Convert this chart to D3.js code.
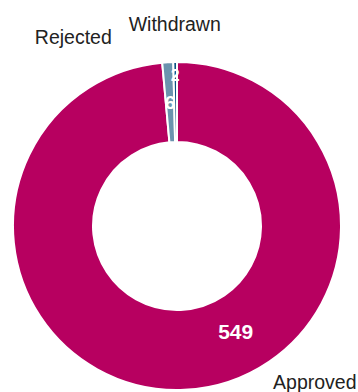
<!DOCTYPE html>
<html>
<head>
<meta charset="utf-8">
<script src="https://cdn.jsdelivr.net/npm/d3@7"></script>
<style>
  html, body { margin: 0; padding: 0; background: #ffffff; }
  svg { display: block; }
</style>
</head>
<body>
<svg id="chart" width="358" height="392"></svg>
<script>
// Application outcomes
const categories = ["Approved", "Rejected", "Withdrawn"];
const counts = [549, 6, 2];
const sliceColors = ["#B70060", "#6B93AE", "#0D5284"];

const width = 358, height = 392;
const cx = 177, cy = 226;
const outerR = 164, innerR = 84;

const svg = d3.select("#chart");
const g = svg.append("g").attr("transform", `translate(${cx},${cy})`);

const data = categories.map((c, i) => ({ category: c, count: counts[i], color: sliceColors[i] }));

const pie = d3.pie().sort(null).value(d => d.count);
const arcs = pie(data);

const arc = d3.arc().innerRadius(innerR).outerRadius(outerR);

g.selectAll("path.slice")
  .data(arcs)
  .join("path")
  .attr("class", "slice")
  .attr("d", arc)
  .attr("fill", d => d.data.color)
  .attr("stroke", "#ffffff")
  .attr("stroke-width", 2)
  .attr("stroke-linejoin", "miter");

const rad = deg => deg * Math.PI / 180;
const polar = (angle, r) => [r * Math.sin(angle), -r * Math.cos(angle)];
const mid = d => (d.startAngle + d.endAngle) / 2;

// Value labels inside the ring
const valueLabelLayout = [
  { angle: rad(151), r: 121, size: 21 },
  { angle: null, r: 124, size: 19 },
  { angle: null, r: 151, size: 16 }
];

g.selectAll("text.value")
  .data(arcs)
  .join("text")
  .attr("class", "value")
  .each(function (d, i) {
    const L = valueLabelLayout[i];
    const a = L.angle == null ? mid(d) : L.angle;
    const [x, y] = polar(a, L.r);
    d3.select(this)
      .attr("x", x)
      .attr("y", y)
      .attr("dy", "0.36em")
      .attr("font-size", L.size);
  })
  .attr("text-anchor", "middle")
  .attr("font-family", "'Liberation Sans', Arial, sans-serif")
  .attr("font-weight", "bold")
  .attr("fill", "#ffffff")
  .text(d => d.data.count);

// Category labels around the ring
const categoryLabelLayout = [
  { angle: rad(138.5), r: 208 },
  { angle: rad(-28.7), r: 216 },
  { angle: null, r: 202 }
];

g.selectAll("text.category")
  .data(arcs)
  .join("text")
  .attr("class", "category")
  .each(function (d, i) {
    const L = categoryLabelLayout[i];
    const a = L.angle == null ? mid(d) - 2 * Math.PI : L.angle;
    const [x, y] = polar(a, L.r);
    d3.select(this)
      .attr("x", x)
      .attr("y", y)
      .attr("dy", "0.36em");
  })
  .attr("text-anchor", "middle")
  .attr("font-family", "'Liberation Sans', Arial, sans-serif")
  .attr("font-size", 19.5)
  .attr("fill", "#222222")
  .text(d => d.data.category);
</script>
</body>
</html>
